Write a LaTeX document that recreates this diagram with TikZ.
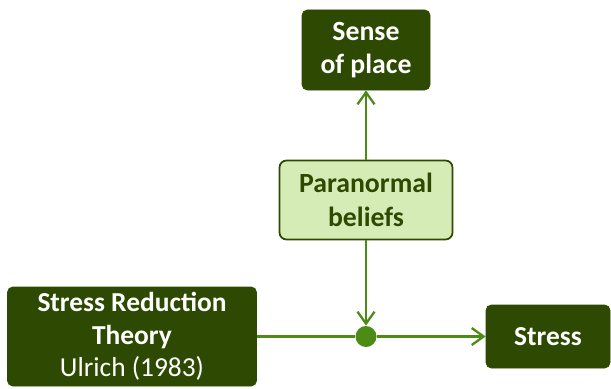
\documentclass[tikz,border=0pt]{standalone}
\usepackage{fontspec}
\setmainfont{Carlito}
\usetikzlibrary{arrows.meta}
\definecolor{darkleaf}{RGB}{46,74,2}
\definecolor{leafline}{RGB}{76,140,22}
\definecolor{paleleaf}{RGB}{214,236,182}

\begin{document}
\begin{tikzpicture}[
	darkbox/.style={draw=darkleaf, fill=darkleaf, rounded corners=3pt, text=white, align=center, inner sep=0pt, font=\fontsize{15.6}{18.4}\selectfont},
	lightbox/.style={draw=darkleaf, line width=1pt, fill=paleleaf, rounded corners=4pt, text=darkleaf, align=center, inner sep=0pt, font=\fontsize{15.8}{19}\selectfont},
	link/.style={draw=leafline, line width=1.4pt},
	tip/.style={-{Straight Barb[length=2.4mm,width=3.4mm,line width=1.3pt]}}
	]
	\useasboundingbox (0,0) rectangle (12.22,7.76);

	\node[darkbox, minimum width=2.56cm, minimum height=1.6cm, font=\fontsize{15.8}{19.2}\selectfont] (place) at (7.32,6.76) {\bfseries Sense\\\bfseries of place};
	\node[lightbox, minimum width=3.46cm, minimum height=1.58cm] (belief) at (7.32,3.76) {\bfseries Paranormal\\\bfseries beliefs};
	\node[darkbox, minimum width=4.98cm, minimum height=1.98cm] (srt) at (2.64,1.03) {\bfseries Stress Reduction\\\bfseries Theory\\Ulrich (1983)};
	\node[darkbox, minimum width=2.48cm, minimum height=1.26cm] (stress) at (10.96,1.03) {\bfseries Stress};
	\node[circle, fill=leafline, inner sep=0pt, minimum size=0.42cm] (dot) at (7.32,1.03) {};

	\draw[link, tip] (belief) -- (place);
	\draw[link, tip] (belief) -- (dot);
	\draw[link] (srt) -- (dot);
	\draw[link, tip] (dot) -- (stress);
\end{tikzpicture}
\end{document}
